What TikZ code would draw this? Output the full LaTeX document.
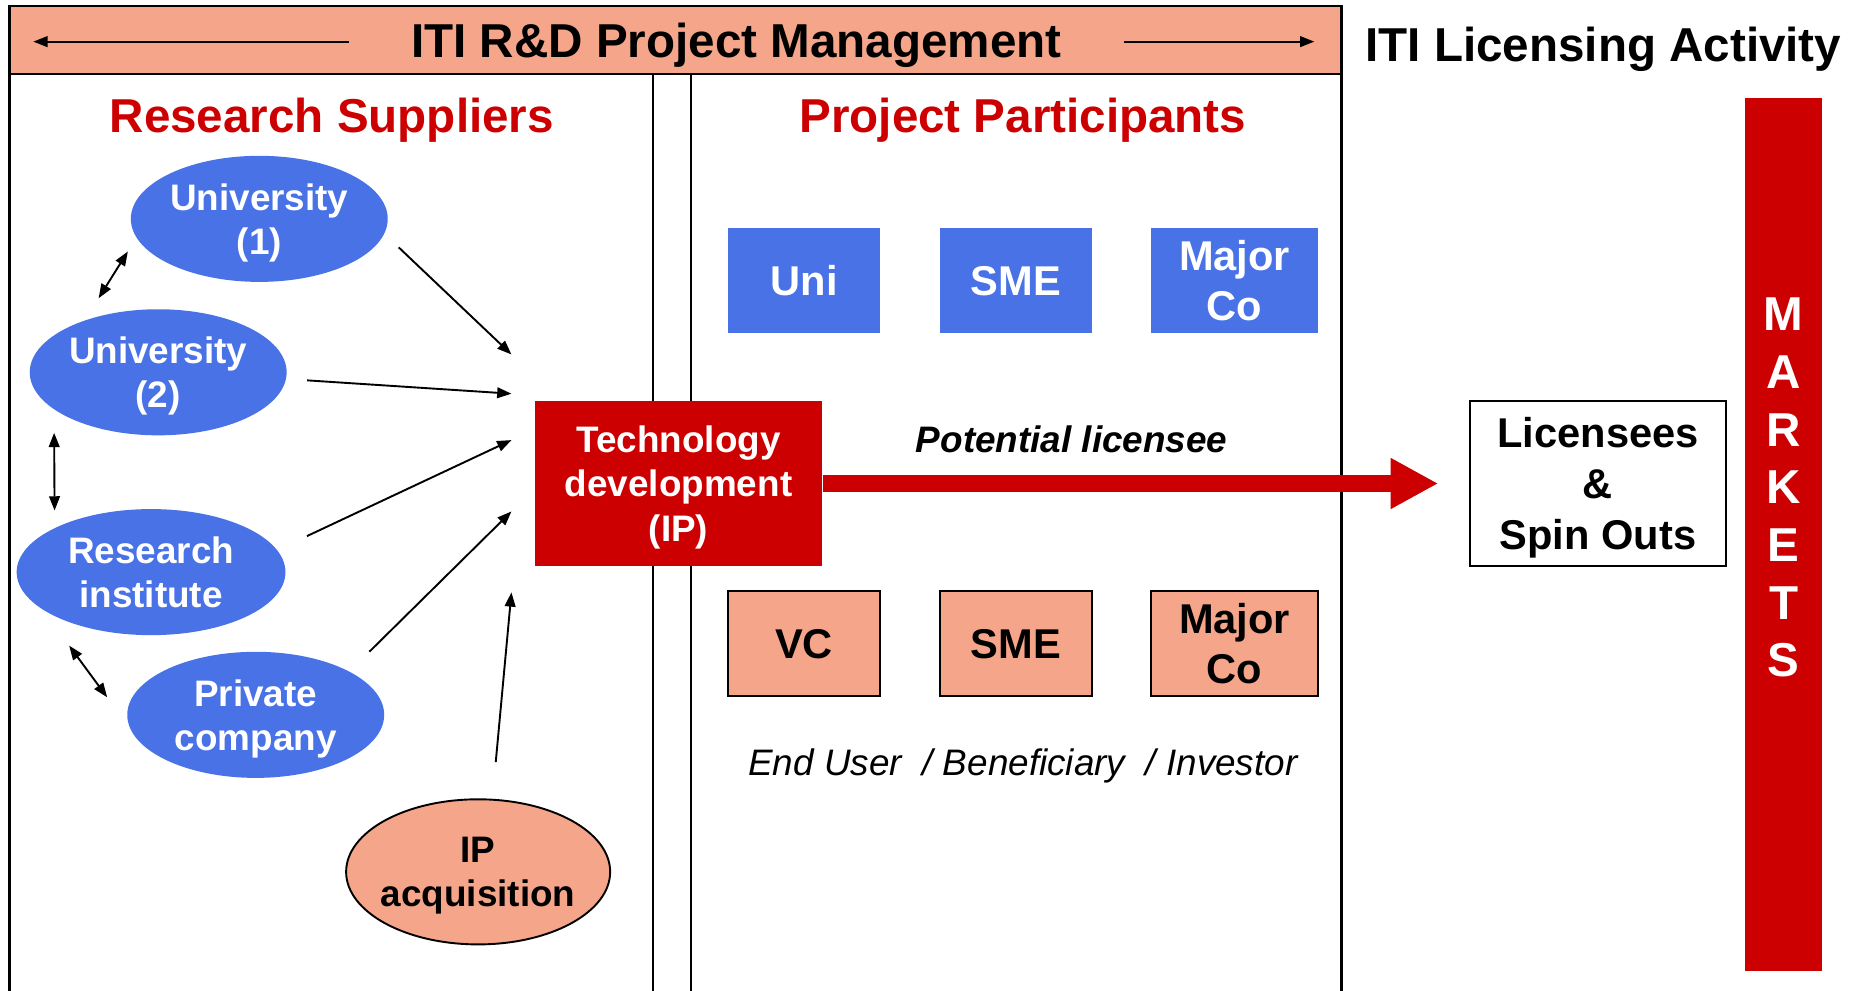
\documentclass[tikz,border=0pt]{standalone}
\usepackage{fontspec}
\setmainfont{Liberation Sans}
\usetikzlibrary{arrows.meta,shapes.geometric}
\definecolor{salmon}{RGB}{244,165,138}
\definecolor{itiblue}{RGB}{72,114,230}
\definecolor{itired}{RGB}{204,0,0}

\begin{document}
\begin{tikzpicture}
        [x=1pt,y=-1pt,line width=1.6pt,>={Triangle[length=12pt,width=9pt]},
         supplier/.style={ellipse,fill=itiblue,text=white,minimum width=216pt,minimum height=106pt,inner sep=0pt,text depth=-3pt,align=center,font=\fontsize{31}{37}\selectfont\bfseries},
         partbox/.style={rectangle,minimum width=128pt,minimum height=88pt,inner sep=0pt,text depth=-3pt,align=center,font=\fontsize{35}{42}\selectfont\bfseries},
         heading/.style={anchor=base,font=\fontsize{40}{48}\selectfont\bfseries},
         panel/.style={line width=2pt}]
        \useasboundingbox (0,0) rectangle (1568,833);

        \node[draw,panel,fill=salmon,minimum width=1120pt,minimum height=57pt,inner sep=0pt] (banner) at (568,33.5) {};
        \node[heading] (mgmt) at (619,48.5) {ITI R\&D Project Management};
        \node[heading] (licensing) at (1348,52) {ITI Licensing Activity};
        \coordinate (lstart) at (293,35);
        \coordinate (lend) at (28,35);
        \coordinate (rstart) at (945,35);
        \coordinate (rend) at (1105,35);
        \draw[->] (lstart) -- (lend);
        \draw[->] (rstart) -- (rend);

        \foreach \x in {8,549,581,1128}
        \draw[panel] (\x,62) -- (\x,833);

        \node[heading,text=itired] (suppliers) at (279,111.5) {Research Suppliers};
        \node[heading,text=itired] (participants) at (860,111.5) {Project Participants};

        \node[supplier] (u1) at (218,184) {University\\(1)};
        \node[supplier] (u2) at (133,313) {University\\(2)};
        \node[supplier,minimum width=226pt] (ri) at (127,481) {Research\\institute};
        \node[supplier] (pc) at (215,601) {Private\\company};
        \node[supplier,draw,fill=salmon,text=black,inner xsep=-10pt,minimum width=222pt,minimum height=122pt] (ip) at (402,733) {IP\\acquisition};

        \node[fill=itired,text=white,minimum width=241pt,minimum height=139pt,inner sep=0pt,text depth=-3pt,align=center,font=\fontsize{31}{37.5}\selectfont\bfseries] (tech) at (570.5,406.5) {Technology\\development\\(IP)};

        \coordinate (in1) at (430,298);
        \coordinate (in2) at (430,331);
        \coordinate (in3) at (430,370);
        \coordinate (in4) at (430,430);
        \coordinate (in5) at (430,498);
        \foreach \from/\to/\gap in {u1.353/in1/16, u2.357/in2/17, ri.10/in3/27, pc.25/in4/23, ip.79/in5/31}
        \draw[->,shorten <=\gap pt] (\from) -- (\to);
        \foreach \from/\to/\a/\b in {u1.189/u2.144/13/21, u2.200/ri.155/19/14, ri.200/pc.185/36/30}
        \draw[<->,shorten <=\a pt,shorten >=\b pt] (\from) -- (\to);

        \node[partbox,fill=itiblue,text=white] (uni) at (676,236) {Uni};
        \node[partbox,fill=itiblue,text=white] (sme) at (854,236) {SME};
        \node[partbox,fill=itiblue,text=white,minimum width=140pt] (major) at (1038,236) {Major\\Co};
        \node[partbox,draw,fill=salmon] (vc) at (676,541) {VC};
        \node[partbox,draw,fill=salmon] (sme2) at (854,541) {SME};
        \node[partbox,draw,fill=salmon,minimum width=140pt] (major2) at (1038,541) {Major\\Co};

        \node[font=\fontsize{31}{37}\selectfont\bfseries\itshape] (potential) at (901,369) {Potential licensee};
        \node[anchor=base,font=\fontsize{31}{37}\selectfont\itshape] (enduser) at (860,652) {End User~ / Beneficiary~ / Investor};

        \node[draw,minimum width=215pt,minimum height=139pt,inner sep=0pt,text depth=-3pt,align=center,font=\fontsize{35}{43}\selectfont\bfseries] (lic) at (1343.5,406.5) {Licensees\\\&\\Spin Outs};
        \draw[itired,line width=14pt,-{Triangle[length=40pt,width=40pt]},shorten >=26pt] (tech.east) -- (lic.west);

        \node[fill=itired,minimum width=65pt,minimum height=734pt,inner sep=0pt] (markets) at (1499.5,449) {};
        \node[text=white,align=center,font=\fontsize{40}{48.5}\selectfont\bfseries] (marketsword) at (1499.5,410) {M\\A\\R\\K\\E\\T\\S};
      \end{tikzpicture}
\end{document}
